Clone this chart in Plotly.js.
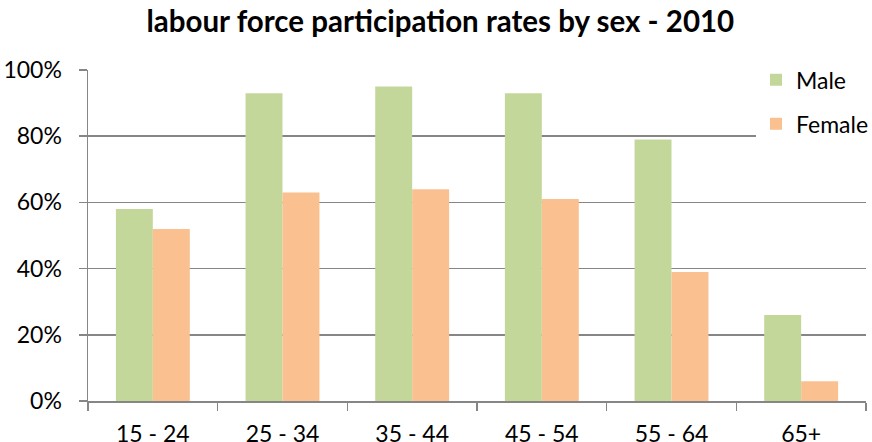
<!DOCTYPE html>
<html><head><meta charset="utf-8">
<script src="https://cdn.plot.ly/plotly-3.0.1.min.js"></script>
<style>body{margin:0;padding:0;background:#fff}#chart{width:872px;height:442px}</style>
</head><body><div id="chart"></div>
<script>
const categories = ["15 - 24", "25 - 34", "35 - 44", "45 - 54", "55 - 64", "65+"];
const maleValues = [0.58, 0.93, 0.95, 0.93, 0.79, 0.26];
const femaleValues = [0.52, 0.63, 0.64, 0.61, 0.39, 0.06];
const seriesNames = ["Male", "Female"];
const yTickValues = [0, 0.2, 0.4, 0.6, 0.8, 1.0];

const font = "Lato, 'Open Sans', sans-serif";
const data = [
  {type: "bar", name: seriesNames[0], x: categories, y: maleValues,
   marker: {color: "#C4D79B"}, legendgroup: "m", hoverinfo: "none"},
  {type: "bar", name: seriesNames[1], x: categories, y: femaleValues,
   marker: {color: "#FAC090"}, legendgroup: "f", hoverinfo: "none"}
];
const layout = {
  width: 872, height: 442,
  margin: {l: 88, r: 6, t: 70, b: 41, autoexpand: false},
  paper_bgcolor: "#fff", plot_bgcolor: "#fff",
  title: {text: "<b>labour force participation rates by sex - 2010</b>",
          font: {family: font, size: 29.5, color: "#000"}, x: 0.505, xanchor: "center", y: 0.952, yanchor: "middle"},
  barmode: "group", bargap: 0.43, bargroupgap: 0,
  xaxis: {type: "category", showgrid: false, showline: true, linecolor: "#868686", linewidth: 1.5,
          ticks: "outside", tickson: "boundaries", ticklen: 8, tickcolor: "#868686", tickwidth: 1.5,
          ticklabelstandoff: 12, automargin: false,
          tickfont: {family: font, size: 23, color: "#000"}},
  yaxis: {range: [0, 1], tickvals: yTickValues, tickformat: ".0%", showgrid: true, gridcolor: "#868686", gridwidth: 1.5,
          showline: true, linecolor: "#868686", linewidth: 1.5, ticks: "outside", ticklen: 8,
          tickcolor: "#868686", tickwidth: 1.5, zeroline: false, ticklabelstandoff: 12, automargin: false,
          tickfont: {family: font, size: 23, color: "#000"}},
  showlegend: true,
  legend: {x: 0.8586, xanchor: "left", y: 1.035, yanchor: "top", bgcolor: "#fff",
           traceorder: "grouped", tracegroupgap: 11,
           font: {family: font, size: 23, color: "#000"}, itemwidth: 30}
};
Plotly.newPlot("chart", data, layout, {staticPlot: true});
</script></body></html>
